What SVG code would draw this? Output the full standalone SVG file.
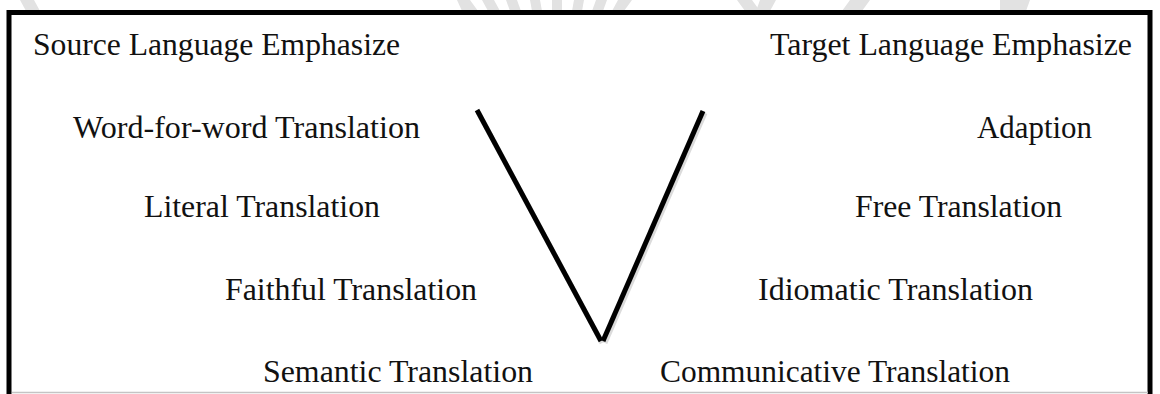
<svg xmlns="http://www.w3.org/2000/svg" width="1160" height="394" viewBox="0 0 1160 394">
  <style>
    .lbl { font-family: "Liberation Serif", "Times New Roman", serif; font-size: 32px; fill: #111; }
    .wm { fill: #e2e2e2; }
    .vline { stroke: #000; stroke-width: 5; stroke-linecap: butt; fill: none; }
    .vshadow { stroke: #999; stroke-width: 5; stroke-opacity: 0.35; fill: none; }
  </style>
  <rect x="0" y="0" width="1160" height="394" fill="#fff"/>
  <!-- faint watermark visible above the frame -->
  <g id="watermark">
    <polygon class="wm" points="20,0 34,0 40,11 26,11"/>
    <polygon class="wm" points="457,0 470,0 478,11 462,11"/>
    <polygon class="wm" points="482,0 494,0 500,11 488,11"/>
    <polygon class="wm" points="506,0 517,0 521,11 510,11"/>
    <polygon class="wm" points="530,0 540,0 542,11 532,11"/>
    <polygon class="wm" points="552,0 562,0 562,11 552,11"/>
    <polygon class="wm" points="574,0 584,0 582,11 572,11"/>
    <polygon class="wm" points="596,0 607,0 603,11 592,11"/>
    <polygon class="wm" points="618,0 632,0 624,11 612,11"/>
    <polygon class="wm" points="737,0 752,0 760,11 745,11"/>
    <polygon class="wm" points="760,0 776,0 770,11 756,11"/>
    <polygon class="wm" points="850,0 870,0 862,11 842,11"/>
    <polygon class="wm" points="1000,0 1030,0 1026,11 1000,11"/>
  </g>
  <g id="frame">
    <rect x="9" y="12.5" width="1141" height="420" fill="#fff" stroke="#000" stroke-width="5"/>
    <line x1="12" y1="392.5" x2="1148" y2="392.5" stroke="#c4c4c4" stroke-width="1.5"/>
  </g>
  <g id="connectors">
    <line class="vshadow" x1="478" y1="112" x2="602" y2="343"/>
    <line class="vshadow" x1="705" y1="113" x2="605" y2="343"/>
    <line class="vline" x1="477" y1="110" x2="601" y2="341"/>
    <line class="vline" x1="703" y1="111" x2="603" y2="341"/>
  </g>
  <g id="source-emphasize"><text class="lbl" x="33" y="55" textLength="367" lengthAdjust="spacingAndGlyphs">Source Language Emphasize</text></g>
  <g id="target-emphasize"><text class="lbl" x="770" y="55" textLength="362" lengthAdjust="spacingAndGlyphs">Target Language Emphasize</text></g>
  <g id="word-for-word"><text class="lbl" x="73" y="138" textLength="347" lengthAdjust="spacingAndGlyphs">Word-for-word Translation</text></g>
  <g id="adaption"><text class="lbl" x="977" y="138" textLength="115" lengthAdjust="spacingAndGlyphs">Adaption</text></g>
  <g id="literal"><text class="lbl" x="144" y="217" textLength="236" lengthAdjust="spacingAndGlyphs">Literal Translation</text></g>
  <g id="free"><text class="lbl" x="855" y="217" textLength="207" lengthAdjust="spacingAndGlyphs">Free Translation</text></g>
  <g id="faithful"><text class="lbl" x="225" y="300" textLength="252" lengthAdjust="spacingAndGlyphs">Faithful Translation</text></g>
  <g id="idiomatic"><text class="lbl" x="758" y="300" textLength="275" lengthAdjust="spacingAndGlyphs">Idiomatic Translation</text></g>
  <g id="semantic"><text class="lbl" x="263" y="382" textLength="270" lengthAdjust="spacingAndGlyphs">Semantic Translation</text></g>
  <g id="communicative"><text class="lbl" x="660" y="382" textLength="350" lengthAdjust="spacingAndGlyphs">Communicative Translation</text></g>
</svg>
